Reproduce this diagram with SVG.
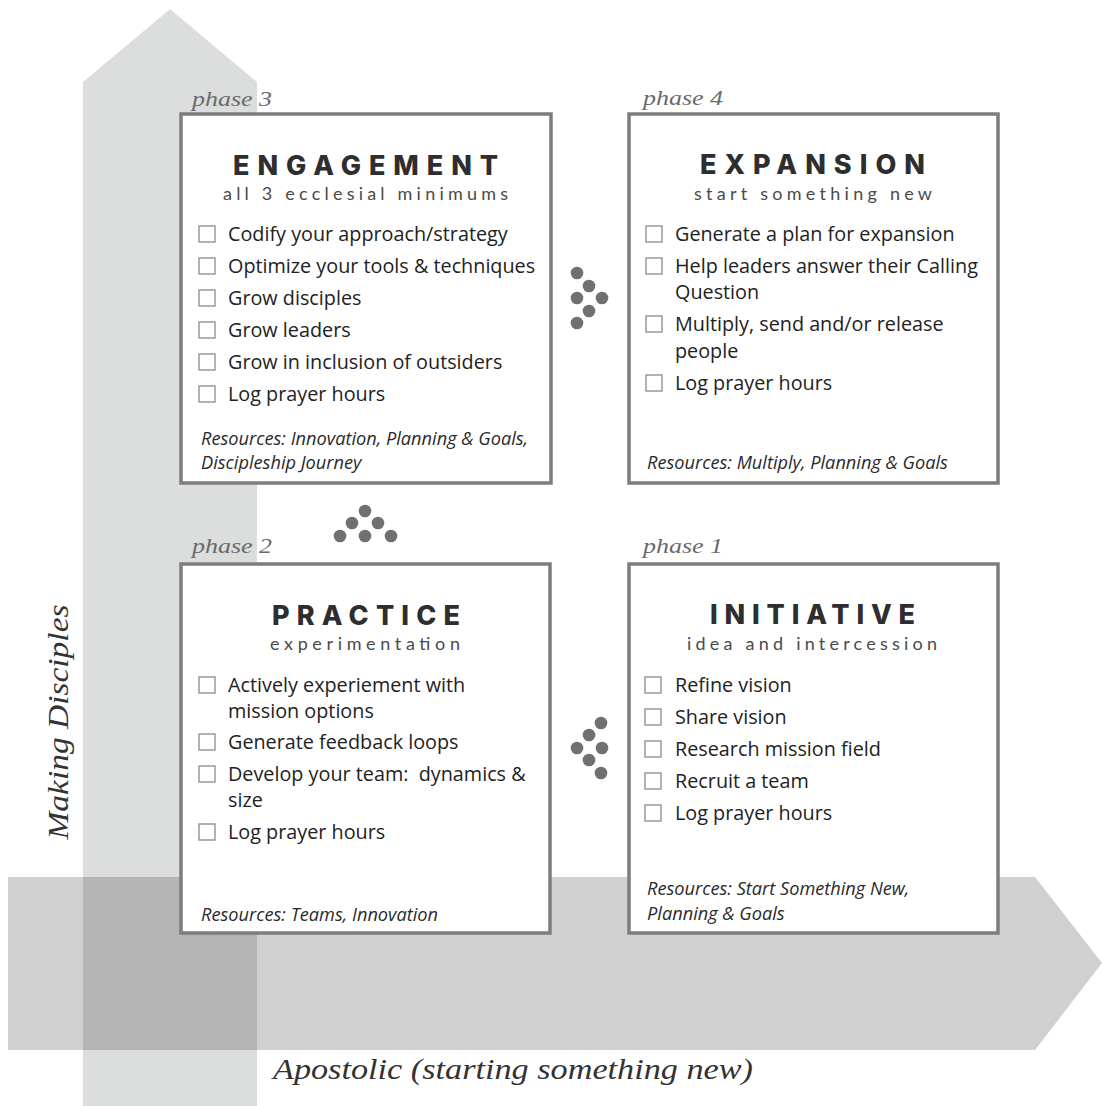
<svg xmlns="http://www.w3.org/2000/svg" width="1102" height="1106" viewBox="0 0 1102 1106">
<style>
.box{fill:#fff;stroke:#7d7d7d;stroke-width:3.5}
.cb{fill:#fff;stroke:#8a8a8a;stroke-width:1.3}
.title{font-family:Inter,"Liberation Sans",sans-serif;font-weight:800;font-size:27px;fill:#2e2e2e}
.sub{font-family:Lato,"Open Sans",sans-serif;font-weight:400;font-size:18px;fill:#4a4a4a}
.item{font-family:"Open Sans","Liberation Sans",sans-serif;font-size:19.8px;fill:#222;white-space:pre}
.res{font-family:"Open Sans","Liberation Sans",sans-serif;font-style:italic;font-size:18.2px;fill:#2a2a2a}
.phase{font-family:"Liberation Serif","DejaVu Serif",serif;font-style:italic;font-size:22px;fill:#6a6a6a}
.axis{font-family:"Liberation Serif","DejaVu Serif",serif;font-style:italic;font-size:30px;fill:#333}
.dot{fill:#707070}
</style>
<g id="arrows">
<polygon points="83,1106 83,82 170,9 257,82 257,1106" fill="#dcdddd"/>
<polygon points="8,877 1035,877 1102,963 1035,1050 8,1050" fill="#d0d0d0"/>
<rect x="83" y="877" width="174" height="173" fill="#b4b4b4"/>
</g>
<text class="axis" transform="translate(68,722) rotate(-90)" text-anchor="middle" textLength="235" lengthAdjust="spacingAndGlyphs">Making Disciples</text>
<text class="axis" x="273" y="1079" textLength="480" lengthAdjust="spacingAndGlyphs">Apostolic (starting something new)</text>
<g id="connectors">
<g id="dots-3-4">
<circle class="dot" cx="577" cy="273" r="6.3"/><circle class="dot" cx="589" cy="286" r="6.3"/><circle class="dot" cx="577" cy="298" r="6.3"/><circle class="dot" cx="602" cy="298" r="6.3"/><circle class="dot" cx="589" cy="311" r="6.3"/><circle class="dot" cx="577" cy="323" r="6.3"/>
</g>
<g id="dots-2-3">
<circle class="dot" cx="365" cy="511" r="6.3"/><circle class="dot" cx="352" cy="523" r="6.3"/><circle class="dot" cx="378" cy="523" r="6.3"/><circle class="dot" cx="340" cy="536" r="6.3"/><circle class="dot" cx="365" cy="536" r="6.3"/><circle class="dot" cx="391" cy="536" r="6.3"/>
</g>
<g id="dots-1-2">
<circle class="dot" cx="601" cy="723" r="6.3"/><circle class="dot" cx="589" cy="735" r="6.3"/><circle class="dot" cx="577" cy="748" r="6.3"/><circle class="dot" cx="602" cy="748" r="6.3"/><circle class="dot" cx="589" cy="760" r="6.3"/><circle class="dot" cx="601" cy="773" r="6.3"/>
</g>
</g>
<g id="phase3">
<text class="phase" x="192" y="106" textLength="80" lengthAdjust="spacingAndGlyphs">phase 3</text>
<rect class="box" x="181" y="114" width="370" height="369"/>
<text class="title" x="233" y="175" textLength="265" lengthAdjust="spacing">ENGAGEMENT</text>
<text class="sub" x="223" y="200" textLength="285" lengthAdjust="spacing">all 3 ecclesial minimums</text>
<rect class="cb" x="199" y="226" width="16" height="16"/><text class="item" x="228" y="241">Codify your approach/strategy</text>
<rect class="cb" x="199" y="258" width="16" height="16"/><text class="item" x="228" y="273">Optimize your tools &amp; techniques</text>
<rect class="cb" x="199" y="290" width="16" height="16"/><text class="item" x="228" y="305">Grow disciples</text>
<rect class="cb" x="199" y="322" width="16" height="16"/><text class="item" x="228" y="337">Grow leaders</text>
<rect class="cb" x="199" y="354" width="16" height="16"/><text class="item" x="228" y="369">Grow in inclusion of outsiders</text>
<rect class="cb" x="199" y="386" width="16" height="16"/><text class="item" x="228" y="401">Log prayer hours</text>
<text class="res" x="201" y="445">Resources: Innovation, Planning &amp; Goals,</text>
<text class="res" x="201" y="469">Discipleship Journey</text>
</g>
<g id="phase4">
<text class="phase" x="643" y="105" textLength="80" lengthAdjust="spacingAndGlyphs">phase 4</text>
<rect class="box" x="629" y="114" width="369" height="369"/>
<text class="title" x="700" y="174" textLength="225" lengthAdjust="spacing">EXPANSION</text>
<text class="sub" x="694" y="200" textLength="238" lengthAdjust="spacing">start something new</text>
<rect class="cb" x="646" y="226" width="16" height="16"/><text class="item" x="675" y="241">Generate a plan for expansion</text>
<rect class="cb" x="646" y="258" width="16" height="16"/><text class="item" x="675" y="273">Help leaders answer their Calling</text>
<text class="item" x="675" y="299">Question</text>
<rect class="cb" x="646" y="316" width="16" height="16"/><text class="item" x="675" y="331">Multiply, send and/or release</text>
<text class="item" x="675" y="358">people</text>
<rect class="cb" x="646" y="375" width="16" height="16"/><text class="item" x="675" y="390">Log prayer hours</text>
<text class="res" x="647" y="469">Resources: Multiply, Planning &amp; Goals</text>
</g>
<g id="phase2">
<text class="phase" x="192" y="553" textLength="80" lengthAdjust="spacingAndGlyphs">phase 2</text>
<rect class="box" x="181" y="564" width="369" height="369"/>
<text class="title" x="272" y="625" textLength="188" lengthAdjust="spacing">PRACTICE</text>
<text class="sub" x="270" y="650" textLength="190" lengthAdjust="spacing">experimentation</text>
<rect class="cb" x="199" y="677" width="16" height="16"/><text class="item" x="228" y="692">Actively experiement with</text>
<text class="item" x="228" y="718">mission options</text>
<rect class="cb" x="199" y="734" width="16" height="16"/><text class="item" x="228" y="749">Generate feedback loops</text>
<rect class="cb" x="199" y="766" width="16" height="16"/><text class="item" x="228" y="781" xml:space="preserve">Develop your team:  dynamics &amp;</text>
<text class="item" x="228" y="807">size</text>
<rect class="cb" x="199" y="824" width="16" height="16"/><text class="item" x="228" y="839">Log prayer hours</text>
<text class="res" x="201" y="921">Resources: Teams, Innovation</text>
</g>
<g id="phase1">
<text class="phase" x="643" y="553" textLength="80" lengthAdjust="spacingAndGlyphs">phase 1</text>
<rect class="box" x="629" y="564" width="369" height="369"/>
<text class="title" x="710" y="624" textLength="205" lengthAdjust="spacing">INITIATIVE</text>
<text class="sub" x="687" y="650" textLength="250" lengthAdjust="spacing">idea and intercession</text>
<rect class="cb" x="645" y="677" width="16" height="16"/><text class="item" x="675" y="692">Refine vision</text>
<rect class="cb" x="645" y="709" width="16" height="16"/><text class="item" x="675" y="724">Share vision</text>
<rect class="cb" x="645" y="741" width="16" height="16"/><text class="item" x="675" y="756">Research mission field</text>
<rect class="cb" x="645" y="773" width="16" height="16"/><text class="item" x="675" y="788">Recruit a team</text>
<rect class="cb" x="645" y="805" width="16" height="16"/><text class="item" x="675" y="820">Log prayer hours</text>
<text class="res" x="647" y="895">Resources: Start Something New,</text>
<text class="res" x="647" y="920">Planning &amp; Goals</text>
</g>
</svg>
